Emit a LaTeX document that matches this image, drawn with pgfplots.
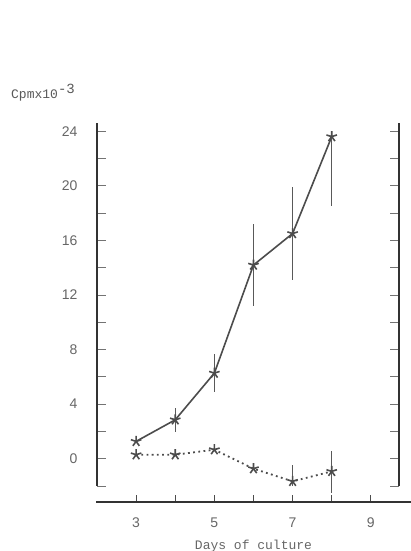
\documentclass[border=0pt]{standalone}
\usepackage{pgfplots}
\pgfplotsset{compat=1.18}
\usepackage{fontspec}
\setmainfont{Liberation Sans}
\setmonofont{Liberation Mono}
\begin{document}
\begin{tikzpicture}[x=1pt,y=1pt]
\path[use as bounding box] (0,0) rectangle (411,551);
\begin{axis}[at={(97pt,65pt)}, anchor=south west, scale only axis,
  width=302pt, height=363pt,
  xmin=2, xmax=9.72, ymin=-2, ymax=24.6,
  separate axis lines,
  x axis line style={draw=none},
  y axis line style={line width=2.2pt, color=black!80},
  xtick=\empty,
  ytick={-2,0,...,24}, yticklabels={,0,,4,,8,,12,,16,,20,,24},
  ytick pos=both,
  tick align=inside, major tick length=9pt,
  tick style={line width=0.8pt, color=black!55},
  yticklabel style={font=\fontsize{14}{14}\selectfont, text=black!60, xshift=-16pt},
  /pgf/number format/assume math mode=true,
  clip=false,
]
\addplot[solid, line width=1.6pt, color=black!70, mark=star, mark size=5.5pt,
  mark options={solid, line width=1.6pt},
  error bars/.cd, y dir=both, y explicit, error mark=none,
  error bar style={line width=1.4pt, color=black!65}]
coordinates {
(3,1.27) +- (0,0)
(4,2.85) +- (0,0.88)
(5,6.27) +- (0,1.4)
(6,14.19) +- (0,3.0)
(7,16.5) +- (0,3.4)
(8,23.6) += (0,0) -= (0,5.1)
};
\addplot[line width=1.8pt, color=black!70, dash pattern=on 1.8pt off 3.4pt,
  mark=star, mark size=5.5pt, mark options={solid, line width=1.6pt},
  error bars/.cd, y dir=both, y explicit, error mark=none,
  error bar style={line width=1.4pt, solid, color=black!65}]
coordinates {
(3,0.29) +- (0,0)
(4,0.29) +- (0,0)
(5,0.66) +- (0,0)
(6,-0.73) +- (0,0)
(7,-1.66) += (0,1.17) -= (0,0.37)
(8,-0.93) += (0,1.46) -= (0,1.56)
};
\end{axis}
\begin{axis}[at={(96pt,49pt)}, anchor=south west, scale only axis,
  width=315pt, height=20pt,
  xmin=1.974, xmax=10.03, ymin=0, ymax=1,
  axis x line*=bottom, axis y line=none,
  x axis line style={line width=2.2pt, color=black!80},
  xtick={3,4,...,9}, xticklabels={3,,5,,7,,9},
  ytick=\empty,
  tick align=inside, major tick length=7pt,
  tick style={line width=1.2pt, color=black!70},
  xticklabel style={font=\fontsize{14}{14}\selectfont, text=black!60, yshift=-12pt},
  xlabel={Days of culture},
  xlabel style={font=\ttfamily\fontsize{13}{13}\selectfont, text=black!60, yshift=-6pt},
  /pgf/number format/assume math mode=true,
]
\end{axis}
\node[anchor=west, font=\ttfamily\fontsize{13}{13}\selectfont, text=black!65, inner sep=0pt]
  at (11,458) {Cpmx10\raisebox{5pt}{\fontsize{14}{14}\selectfont -3}};
\end{tikzpicture}
\end{document}
